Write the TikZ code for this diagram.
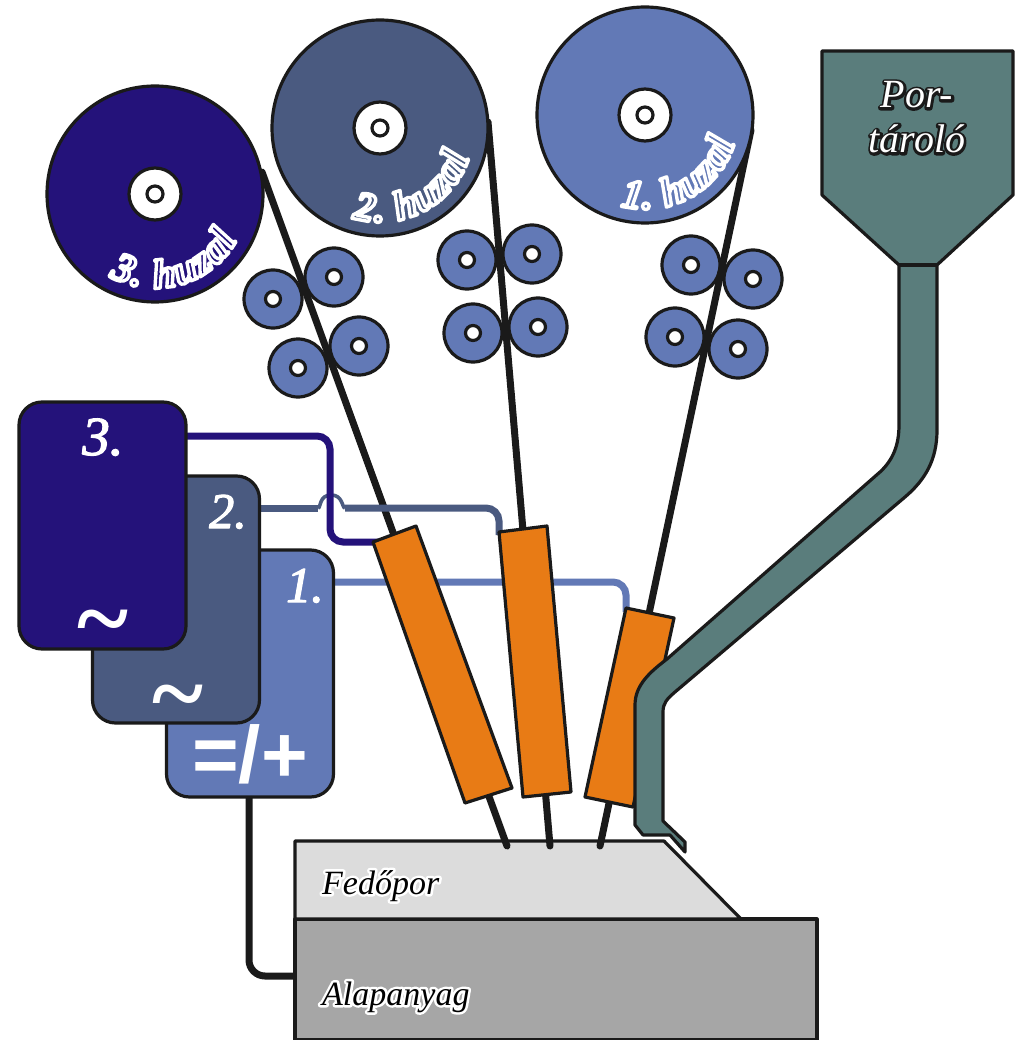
\documentclass[tikz,border=0pt]{standalone}
\usepackage{fontspec}
\setmainfont{Liberation Serif}
\setsansfont{Liberation Sans}
\usetikzlibrary{decorations.text}
\definecolor{ink}{HTML}{1A1A1A}
\definecolor{dsk}{HTML}{24127A}
\definecolor{dmd}{HTML}{4A5A80}
\definecolor{dlt}{HTML}{6279B6}
\definecolor{org}{HTML}{E87B15}
\definecolor{grn}{HTML}{5A7D7C}
\definecolor{lgr}{HTML}{DCDCDC}
\definecolor{mgr}{HTML}{A6A6A6}
% text with a coloured outline underneath
\newcommand\strokeon[1]{\special{pdf:code 2 Tr #1 w 1 j}}
\newcommand\halotext[3]{\leavevmode\rlap{\color{#1}\strokeon{#2}#3\special{pdf:code 0 Tr}}#3}
\newcommand\fsz[1]{\fontsize{#1}{#1}\selectfont}
\tikzset{
  outl/.style={draw=ink,line width=3.2pt,line join=round},
  disc/.style={circle,outl,minimum size=216pt,inner sep=0pt},
  hubdisc/.style={circle,outl,fill=white,minimum size=#1,inner sep=0pt},
  roller/.style={circle,outl,fill=dlt,minimum size=58pt,inner sep=0pt},
  rollhub/.style={circle,outl,fill=white,minimum size=15pt,inner sep=0pt},
  wire/.style={draw=ink,line width=7pt,line cap=round},
  cable/.style={line width=7pt,rounded corners=13pt},
  supply/.style={outl,rounded corners=23pt,minimum width=167pt,minimum height=247pt,inner sep=0pt},
  torch/.style={outl,fill=org},
  lab/.style={anchor=base,inner sep=0pt,text=white,font=\itshape},
  blab/.style={anchor=base west,inner sep=0pt,text=black,font=\itshape\fsz{34}},
}
% curved disc caption: letters in the disc colour, stroked in white
\newcommand\disccap[5]{% centre, from, to, colour, text
  \begin{scope}[shift={(#1)},y=1pt]
    \path[decorate,decoration={text along path,text align={fit to path},
      text={|\itshape\bfseries\fsz{41}\color{#4}\special{pdf:code 1 1 1 RG 2 Tr 3.4 w 1 j}|#5}}] (-#2:94) arc (-#2:-#3:94);
  \end{scope}}
\begin{document}
\begin{tikzpicture}[x=1pt,y=-1pt]
\useasboundingbox (0,0) rectangle (1017,1040);
\fill[white] (0,0) rectangle (1017,1040);

% work piece
\draw[outl,fill=mgr] (295,919) rectangle (817,1040);
\draw[outl,fill=lgr] (295,841) -- (664,841) -- (741,919) -- (295,919) -- cycle;
\node[blab] (fedo) at (322,894) {\halotext{white}{5}{Fedőpor}};
\node[blab] (alap) at (322,1005) {\halotext{white}{5}{Alapanyag}};

% centres of the discs
\coordinate (c3) at (155,194);
\coordinate (c2) at (380,128);
\coordinate (c1) at (645,115);

% rollers
\foreach \n/\x/\y in {a/273/299,b/334/277,c/359/346,d/298/368,e/467/260,f/532/254,g/473/333,h/538/327,i/691/265,j/753/279,k/675/337,l/738/349}{
  \node[roller] (roll\n) at (\x,\y) {};
  \node[rollhub] (hub\n) at (roll\n) {};
}

% wires
\coordinate (w3a) at (262,172); \coordinate (w3b) at (507,846);
\coordinate (w2a) at (488,122); \coordinate (w2b) at (550,846);
\coordinate (w1a) at (751,130); \coordinate (w1b) at (600,846);
\draw[wire] (w3a) -- (w3b);
\draw[wire] (w2a) -- (w2b);
\draw[wire] (w1a) -- (w1b);

% discs
\node[disc,fill=dsk] (disc3) at (c3) {};
\node[disc,fill=dmd] (disc2) at (c2) {};
\node[disc,fill=dlt] (disc1) at (c1) {};
\foreach \c in {3,2,1}{
  \node[hubdisc=52pt] (hubo\c) at (c\c) {};
  \node[hubdisc=16pt] (hubi\c) at (c\c) {};
}
\disccap{c3}{119}{29}{dsk}{3. huzal}
\disccap{c2}{107}{18}{dmd}{2. huzal}
\disccap{c1}{105}{17}{dlt}{1. huzal}

% power cables
\coordinate (k3a) at (186,436); \coordinate (k3b) at (330,436); \coordinate (k3c) at (330,542); \coordinate (k3d) at (385,542);
\coordinate (k2a) at (258,508); \coordinate (k2b) at (318,508); \coordinate (k2c) at (345,508); \coordinate (k2d) at (499,508); \coordinate (k2e) at (499,535);
\coordinate (k1a) at (331,582); \coordinate (k1b) at (626,582); \coordinate (k1c) at (626,612);
\draw[cable,draw=dlt] (k1a) -- (k1b) -- (k1c);
\draw[cable,draw=dmd] (k2c) -- (k2d) -- (k2e);
\draw[draw=dmd,line width=7pt] (k2a) -- (k2b);
\draw[draw=dmd,line width=3.6pt] (k2b) .. controls (321,508) and (319,495) .. (331,495) .. controls (343,495) and (342,508) .. (k2c);
\draw[cable,draw=dsk] (k3a) -- (k3b) -- (k3c) -- (k3d);

% earth cable
\coordinate (g1) at (249,795); \coordinate (g2) at (249,976); \coordinate (g3) at (296,976);
\draw[draw=ink,line width=7pt,rounded corners=16pt] (g1) -- (g2) -- (g3);

% power sources
\node[supply,fill=dlt] (box1) at (250,673.5) {};
\node[supply,fill=dmd] (box2) at (176,599.5) {};
\node[supply,fill=dsk] (box3) at (102.5,525.5) {};
\node[lab,font=\itshape\fsz{55}] (n3) at (103,455) {\halotext{white}{1.2}{3.}};
\node[lab,font=\itshape\fsz{50}] (n2) at (228,528) {\halotext{white}{1.2}{2.}};
\node[lab,font=\itshape\fsz{50}] (n1) at (305,602) {\halotext{white}{1.2}{1.}};
\node[anchor=base,inner sep=0pt,text=white,font=\bfseries\fsz{98}] (t3) at (103,651) {\char`\~};
\node[anchor=base,inner sep=0pt,text=white,font=\bfseries\fsz{98}] (t2) at (178,726) {\char`\~};
\node[anchor=base,inner sep=0pt,text=white,font=\sffamily\bfseries\fsz{80}] (dc) at (250,782) {=/+};

% torches
\draw[torch] (373,542) -- (416,526) -- (512,788) -- (465,803) -- cycle;
\draw[torch] (499,532) -- (547,526) -- (571,792) -- (523,797) -- cycle;
\draw[torch] (626,608) -- (674,618) -- (633,807) -- (585,797) -- cycle;

% powder hopper and pipe
\draw[outl,fill=grn] (822,51) -- (1013,51) -- (1013,195) -- (937,265)
  -- (937,430) .. controls (937,460) and (925,480) .. (905,497)
  -- (675,692) .. controls (667,699) and (663,703) .. (663,712)
  -- (663,821) -- (685,842) -- (685,852) -- (670,835) -- (643,835) -- (635,825)
  -- (635,705) .. controls (635,685) and (650,672) .. (667,659)
  -- (880,472) .. controls (893,460) and (899,445) .. (899,425)
  -- (899,265) -- (822,195) -- cycle;
\draw[outl] (899,265) -- (937,265);
\node[lab,font=\itshape\fsz{40}] (por) at (917,108) {\halotext{ink}{5}{Por-}};
\node[lab,font=\itshape\fsz{40}] (tar) at (917,153) {\halotext{ink}{5}{tároló}};
\end{tikzpicture}
\end{document}
